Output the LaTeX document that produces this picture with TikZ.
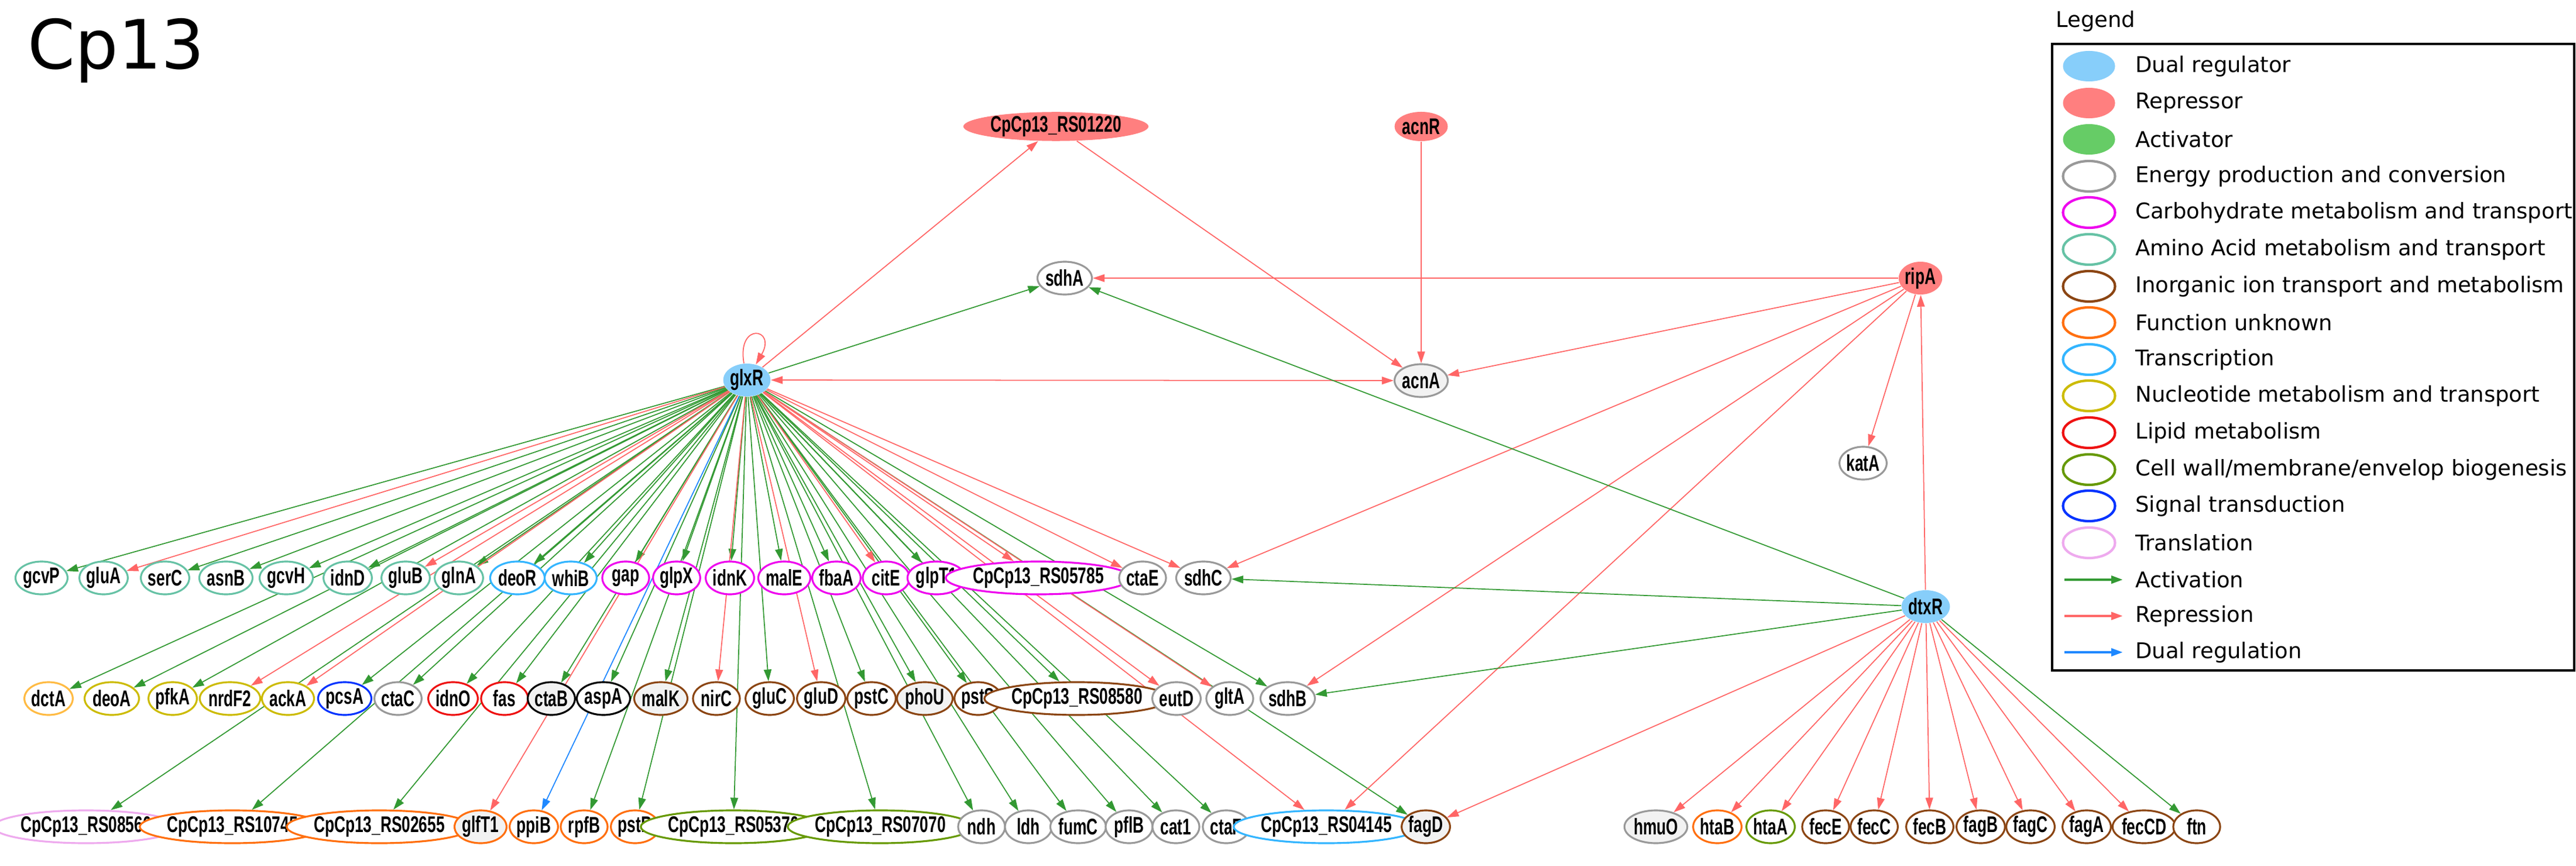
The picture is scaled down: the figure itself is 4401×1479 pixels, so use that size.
\documentclass[tikz,border=0pt]{standalone}
\usepackage{fontspec}
\usepackage{graphicx}
\usetikzlibrary{shapes.geometric,arrows.meta,backgrounds}
\newfontfamily\gnfont{Liberation Sans}
\newfontfamily\legfont{DejaVu Sans}
\newcommand\gn[1]{\scalebox{0.68}[1]{#1}}
\definecolor{cAct}{HTML}{339933}
\definecolor{cRep}{HTML}{FF6666}
\definecolor{cDual}{HTML}{1E88FF}
\definecolor{fDual}{HTML}{87CEFA}
\definecolor{fRep}{HTML}{FF7F7F}
\definecolor{fAct}{HTML}{66CC66}
\definecolor{cEn}{HTML}{999999}
\definecolor{cCarb}{HTML}{EE00EE}
\definecolor{cAmi}{HTML}{66C2A5}
\definecolor{cIno}{HTML}{8B4513}
\definecolor{cFun}{HTML}{FF6F0F}
\definecolor{cTra}{HTML}{33B5FF}
\definecolor{cNuc}{HTML}{CCBB00}
\definecolor{cLip}{HTML}{EE1111}
\definecolor{cCel}{HTML}{669900}
\definecolor{cSig}{HTML}{0033FF}
\definecolor{cTrl}{HTML}{EEAAEE}
\definecolor{cDct}{HTML}{FFBB44}
\definecolor{fGr}{HTML}{F2F2F2}
\tikzset{
  g/.style={ellipse, draw, line width=0.9pt, fill=white, minimum width=0.8cm, minimum height=0.56cm, inner sep=0pt, font=\gnfont\bfseries\fontsize{11}{11}\selectfont},
  w/.style={minimum width=2.34cm},
  gf/.style={fill=fGr},
  reg/.style={ellipse, draw=none, inner sep=0pt, minimum width=0.46cm, minimum height=0.56cm, font=\gnfont\bfseries\fontsize{11}{11}\selectfont},
  e/.style={line width=0.5pt, -{Triangle[length=0.2cm,width=0.13cm]}},
  act/.style={e, draw=cAct, arrows={-{Triangle[length=0.2cm,width=0.13cm,fill=cAct]}}},
  rep/.style={e, draw=cRep, arrows={-{Triangle[length=0.2cm,width=0.13cm,fill=cRep]}}},
  dua/.style={e, draw=cDual, arrows={-{Triangle[length=0.2cm,width=0.13cm,fill=cDual]}}},
  leg/.style={anchor=west, font=\legfont\fontsize{10.5}{10.5}\selectfont},
  lel/.style={ellipse, minimum width=0.89cm, minimum height=0.52cm, inner sep=0pt, line width=1.2pt},
}
\begin{document}
\begin{tikzpicture}[x=0.01cm,y=-0.01cm]
\useasboundingbox (0,0) rectangle (4401,1479);
\node[anchor=base west, font=\legfont\fontsize{33}{33}\selectfont] (title) at (35,118) {Cp13};
% regulators
\node[reg, fill=fDual] (glxR) at (1276,649) {\gn{glxR}};
\node[reg, fill=fDual] (dtxR) at (3290,1036) {\gn{dtxR}};
\node[reg, fill=fRep, minimum width=2.27cm, minimum height=0.49cm] (RS01220) at (1804,216) {\gn{CpCp13\_RS01220}};
\node[reg, fill=fRep, minimum width=0.72cm, minimum height=0.5cm] (acnR) at (2428,216) {\gn{acnR}};
\node[reg, fill=fRep, minimum width=0.62cm] (ripA) at (3281,475) {\gn{ripA}};
\node[g, draw=cEn] (sdhA) at (1819,475) {\gn{sdhA}};
\node[g, draw=cEn, gf] (acnA) at (2428,650) {\gn{acnA}};
\node[g, draw=cEn] (katA) at (3183,791) {\gn{katA}};
% row 1
\node[g, draw=cAmi] (gcvP) at (71,987) {\gn{gcvP}};
\node[g, draw=cAmi] (gluA) at (177,987) {\gn{gluA}};
\node[g, draw=cAmi] (serC) at (282,987) {\gn{serC}};
\node[g, draw=cAmi] (asnB) at (386,987) {\gn{asnB}};
\node[g, draw=cAmi] (gcvH) at (489,987) {\gn{gcvH}};
\node[g, draw=cAmi] (idnD) at (594,987) {\gn{idnD}};
\node[g, draw=cAmi] (gluB) at (693,987) {\gn{gluB}};
\node[g, draw=cAmi] (glnA) at (784,987) {\gn{glnA}};
\node[g, draw=cTra] (deoR) at (884,987) {\gn{deoR}};
\node[g, draw=cTra] (whiB) at (975,987) {\gn{whiB}};
\node[g, draw=cCarb] (gap) at (1069,987) {\gn{gap}};
\node[g, draw=cCarb] (glpX) at (1156,987) {\gn{glpX}};
\node[g, draw=cCarb] (idnK) at (1247,987) {\gn{idnK}};
\node[g, draw=cCarb] (malE) at (1340,987) {\gn{malE}};
\node[g, draw=cCarb] (fbaA) at (1429,987) {\gn{fbaA}};
\node[g, draw=cCarb] (citE) at (1514,987) {\gn{citE}};
\node[g, draw=cCarb] (glpT1) at (1600,987) {\gn{glpT1}};
\node[g, w, draw=cCarb] (RS05785) at (1774,987) {\gn{CpCp13\_RS05785}};
\node[g, draw=cEn] (ctaE) at (1952,987) {\gn{ctaE}};
\node[g, draw=cEn] (sdhC) at (2056,987) {\gn{sdhC}};
% row 2
\node[g, draw=cDct] (dctA) at (83,1193) {\gn{dctA}};
\node[g, draw=cNuc] (deoA) at (191,1193) {\gn{deoA}};
\node[g, draw=cNuc] (pfkA) at (295,1193) {\gn{pfkA}};
\node[g, draw=cNuc] (nrdF2) at (393,1193) {\gn{nrdF2}};
\node[g, draw=cNuc] (ackA) at (492,1193) {\gn{ackA}};
\node[g, draw=cSig] (pcsA) at (589,1193) {\gn{pcsA}};
\node[g, draw=cEn] (ctaC) at (680,1193) {\gn{ctaC}};
\node[g, draw=cLip] (idnO) at (774,1193) {\gn{idnO}};
\node[g, draw=cLip] (fas) at (862,1193) {\gn{fas}};
\node[g, draw=black, gf] (ctaB) at (942,1193) {\gn{ctaB}};
\node[g, draw=black] (aspA) at (1031,1193) {\gn{aspA}};
\node[g, draw=cIno, gf] (malK) at (1129,1193) {\gn{malK}};
\node[g, draw=cIno] (nirC) at (1224,1193) {\gn{nirC}};
\node[g, draw=cIno] (gluC) at (1315,1193) {\gn{gluC}};
\node[g, draw=cIno] (gluD) at (1403,1193) {\gn{gluD}};
\node[g, draw=cIno] (pstC) at (1489,1193) {\gn{pstC}};
\node[g, draw=cIno, gf] (phoU) at (1580,1193) {\gn{phoU}};
\node[g, draw=cIno] (pstS) at (1671,1193) {\gn{pstS}};
\node[g, w, draw=cIno] (RS08580) at (1840,1193) {\gn{CpCp13\_RS08580}};
\node[g, draw=cEn] (eutD) at (2010,1193) {\gn{eutD}};
\node[g, draw=cEn] (gltA) at (2101,1193) {\gn{gltA}};
\node[g, draw=cEn] (sdhB) at (2200,1193) {\gn{sdhB}};
% row 3
\node[g, w, draw=cTrl] (RS08560) at (147,1412) {\gn{CpCp13\_RS08560}};
\node[g, w, draw=cFun] (RS10745) at (397,1412) {\gn{CpCp13\_RS10745}};
\node[g, w, draw=cFun] (RS02655) at (648,1412) {\gn{CpCp13\_RS02655}};
\node[g, draw=cFun, gf] (glfT1) at (821,1412) {\gn{glfT1}};
\node[g, draw=cFun] (ppiB) at (912,1412) {\gn{ppiB}};
\node[g, draw=cFun] (rpfB) at (998,1412) {\gn{rpfB}};
\node[g, draw=cFun] (pstB) at (1085,1412) {\gn{pstB}};
\node[g, w, draw=cCel] (RS05370) at (1253,1412) {\gn{CpCp13\_RS05370}};
\node[g, w, draw=cCel] (RS07070) at (1504,1412) {\gn{CpCp13\_RS07070}};
\node[g, draw=cEn] (ndh) at (1677,1412) {\gn{ndh}};
\node[g, draw=cEn] (ldh) at (1757,1412) {\gn{ldh}};
\node[g, draw=cEn] (fumC) at (1842,1412) {\gn{fumC}};
\node[g, draw=cEn] (pflB) at (1929,1412) {\gn{pflB}};
\node[g, draw=cEn] (cat1) at (2009,1412) {\gn{cat1}};
\node[g, draw=cEn] (ctaF) at (2095,1412) {\gn{ctaF}};
\node[g, w, draw=cTra] (RS04145) at (2266,1412) {\gn{CpCp13\_RS04145}};
\node[g, draw=cIno, gf] (fagD) at (2436,1412) {\gn{fagD}};
\node[g, draw=cEn, gf] (hmuO) at (2829,1412) {\gn{hmuO}};
\node[g, draw=cFun] (htaB) at (2934,1412) {\gn{htaB}};
\node[g, draw=cCel] (htaA) at (3025,1412) {\gn{htaA}};
\node[g, draw=cIno] (fecE) at (3119,1412) {\gn{fecE}};
\node[g, draw=cIno] (fecC) at (3202,1412) {\gn{fecC}};
\node[g, draw=cIno] (fecB) at (3297,1412) {\gn{fecB}};
\node[g, draw=cIno] (fagB) at (3384,1412) {\gn{fagB}};
\node[g, draw=cIno] (fagC) at (3469,1412) {\gn{fagC}};
\node[g, draw=cIno] (fagA) at (3565,1412) {\gn{fagA}};
\node[g, draw=cIno] (fecCD) at (3663,1412) {\gn{fecCD}};
\node[g, draw=cIno] (ftn) at (3753,1412) {\gn{ftn}};
% edges
\begin{scope}[on background layer]
\foreach \t in {gcvP,serC,asnB,gcvH,idnD,glnA,deoR,whiB,gap,glpX,idnK,malE,fbaA,glpT1,dctA,deoA,pfkA,pcsA,ctaC,idnO,fas,ctaB,aspA,malK,gluC,pstC,phoU,pstS,RS08580,sdhB,sdhA,RS08560,RS10745,RS02655,rpfB,pstB,RS05370,RS07070,ndh,ldh,fumC,pflB,cat1,ctaF,fagD}
  \draw[act] (glxR) -- (\t);
\foreach \t in {gluA,gluB,citE,RS05785,ctaE,sdhC,nrdF2,ackA,nirC,gluD,eutD,gltA,glfT1,RS04145,RS01220}
  \draw[rep] (glxR) -- (\t);
\draw[dua] (glxR) -- (ppiB);
\draw[rep] (glxR) to[out=100,in=60,looseness=9] (glxR);
\draw[rep, {Triangle[length=0.2cm,width=0.13cm,fill=cRep]}-{Triangle[length=0.2cm,width=0.13cm,fill=cRep]}] (glxR) -- (acnA);
\draw[rep] (RS01220) -- (acnA);
\draw[rep] (acnR) -- (acnA);
\foreach \t in {sdhA,acnA,sdhC,sdhB,RS04145,katA}
  \draw[rep] (ripA) -- (\t);
\draw[rep] (dtxR) -- (ripA);
\foreach \t in {sdhA,sdhC,sdhB,ftn}
  \draw[act] (dtxR) -- (\t);
\foreach \t in {fagD,hmuO,htaB,htaA,fecE,fecC,fecB,fagB,fagC,fagA,fecCD}
  \draw[rep] (dtxR) -- (\t);
\end{scope}
% legend
\node[anchor=west, font=\legfont\fontsize{10.5}{10.5}\selectfont] (legT) at (3500,36) {Legend};
\draw[line width=1.3pt] (3506,75) rectangle (4398,1145);
\node[lel, fill=fDual] (l1) at (3569,113) {};
\node[leg] (t1) at (3636,113) {Dual regulator};
\node[lel, fill=fRep] (l2) at (3569,176) {};
\node[leg] (t2) at (3636,176) {Repressor};
\node[lel, fill=fAct] (l3) at (3569,238) {};
\node[leg] (t3) at (3636,238) {Activator};
\node[lel, draw=cEn] (l4) at (3569,301) {};
\node[leg] (t4) at (3636,301) {Energy production and conversion};
\node[lel, draw=cCarb] (l5) at (3569,363) {};
\node[leg] (t5) at (3636,363) {Carbohydrate metabolism and transport};
\node[lel, draw=cAmi] (l6) at (3569,426) {};
\node[leg] (t6) at (3636,426) {Amino Acid metabolism and transport};
\node[lel, draw=cIno] (l7) at (3569,489) {};
\node[leg] (t7) at (3636,489) {Inorganic ion transport and metabolism};
\node[lel, draw=cFun] (l8) at (3569,551) {};
\node[leg] (t8) at (3636,551) {Function unknown};
\node[lel, draw=cTra] (l9) at (3569,614) {};
\node[leg] (t9) at (3636,614) {Transcription};
\node[lel, draw=cNuc] (l10) at (3569,676) {};
\node[leg] (t10) at (3636,676) {Nucleotide metabolism and transport};
\node[lel, draw=cLip] (l11) at (3569,739) {};
\node[leg] (t11) at (3636,739) {Lipid metabolism};
\node[lel, draw=cCel] (l12) at (3569,802) {};
\node[leg] (t12) at (3636,802) {Cell wall/membrane/envelop biogenesis};
\node[lel, draw=cSig] (l13) at (3569,864) {};
\node[leg] (t13) at (3636,864) {Signal transduction};
\node[lel, draw=cTrl] (l14) at (3569,927) {};
\node[leg] (t14) at (3636,927) {Translation};
\coordinate (a1s) at (3527,990); \coordinate (a1e) at (3627,990);
\draw[act, line width=1.2pt] (a1s) -- (a1e);
\node[leg] (t15) at (3636,990) {Activation};
\coordinate (a2s) at (3527,1052); \coordinate (a2e) at (3627,1052);
\draw[rep, line width=1.2pt] (a2s) -- (a2e);
\node[leg] (t16) at (3636,1052) {Repression};
\coordinate (a3s) at (3527,1114); \coordinate (a3e) at (3627,1114);
\draw[dua, line width=1.2pt] (a3s) -- (a3e);
\node[leg] (t17) at (3636,1114) {Dual regulation};
\end{tikzpicture}
\end{document}
